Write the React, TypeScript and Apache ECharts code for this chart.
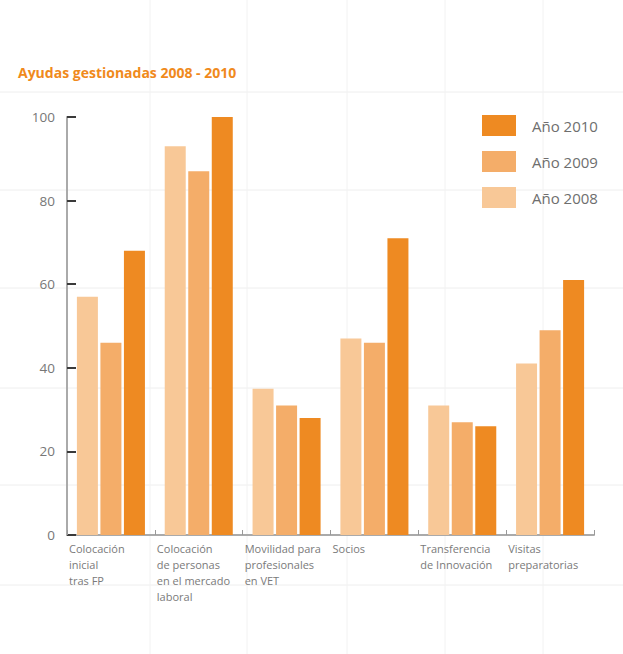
import React, { useEffect, useRef } from "react";
import * as echarts from "echarts";

const categories: string[] = [
  "Colocación\ninicial\ntras FP",
  "Colocación\nde personas\nen el mercado\nlaboral",
  "Movilidad para\nprofesionales\nen VET",
  "Socios",
  "Transferencia\nde Innovación",
  "Visitas\npreparatorias",
];
const years: string[] = ["Año 2008", "Año 2009", "Año 2010"];
const values2008: number[] = [57, 93, 35, 47, 31, 41];
const values2009: number[] = [46, 87, 31, 46, 27, 49];
const values2010: number[] = [68, 100, 28, 71, 26, 61];
const yTicks: number[] = [0, 20, 40, 60, 80, 100];
const colors: string[] = ["#F8C897", "#F4AD69", "#EE8A22"];

const bgH = [92, 190, 288, 388, 485, 585];
const bgV = [150, 247, 347, 445, 543];

export default function App() {
  const ref = useRef<HTMLDivElement>(null);
  useEffect(() => {
    document.body.style.margin = "0";
    const chart = echarts.init(ref.current!, null, { renderer: "svg" });
    const font = "'Open Sans', 'DejaVu Sans', sans-serif";
    const graphics: any[] = [];
    bgH.forEach((y) =>
      graphics.push({
        type: "line",
        z: -10,
        shape: { x1: 0, y1: y, x2: 623, y2: y },
        style: { stroke: "#eeeeee", lineWidth: 1 },
      })
    );
    bgV.forEach((x) =>
      graphics.push({
        type: "line",
        z: -10,
        shape: { x1: x, y1: 0, x2: x, y2: 654 },
        style: { stroke: "#f2f2f2", lineWidth: 1 },
      })
    );
    const seriesData = [values2008, values2009, values2010];
    chart.setOption({
      animation: false,
      backgroundColor: "#ffffff",
      textStyle: { fontFamily: font },
      title: {
        text: "Ayudas gestionadas 2008 - 2010",
        left: 18,
        top: 65,
        padding: 0,
        textStyle: { fontFamily: font, fontSize: 14, fontWeight: "bold", color: "#F08A1C" },
      },
      legend: {
        data: [years[2], years[1], years[0]],
        orient: "vertical",
        left: 482,
        top: 115,
        padding: 0,
        itemWidth: 34,
        itemHeight: 21,
        itemGap: 15,
        icon: "rect",
        selectedMode: false,
        textStyle: { fontFamily: font, fontSize: 15, color: "#6e6e6e", padding: [0, 0, 0, 11] },
      },
      graphic: graphics,
      grid: { left: 67, right: 29, top: 117, bottom: 119, containLabel: false },
      xAxis: [
        {
          type: "category",
          data: categories,
          axisLine: { show: true, lineStyle: { color: "#aaaaaa", width: 2 } },
          axisTick: { show: true, inside: true, length: 5, interval: 0, lineStyle: { color: "#999999", width: 1 } },
          axisLabel: { show: false },
          splitLine: { show: false },
        },
        {
          type: "value",
          position: "bottom",
          min: 0,
          max: 6,
          interval: 1,
          axisLine: { show: false },
          axisTick: { show: false },
          splitLine: { show: false },
          axisLabel: {
            show: true,
            align: "left",
            verticalAlign: "top",
            margin: 5,
            padding: [0, 0, 0, 2],
            fontFamily: font,
            fontSize: 11,
            lineHeight: 16,
            color: "#7a7a7a",
            formatter: (v: number) => categories[v] ?? "",
          },
        },
      ],
      yAxis: {
        type: "value",
        min: yTicks[0],
        max: yTicks[yTicks.length - 1],
        interval: 20,
        axisLine: { show: true, lineStyle: { color: "#aaaaaa", width: 2 } },
        axisTick: { show: true, inside: true, length: 9, lineStyle: { color: "#3a3a3a", width: 2 } },
        splitLine: { show: false },
        axisLabel: {
          margin: 12,
          padding: [9, 0, 0, 0],
          fontFamily: font,
          fontSize: 13.5,
          color: "#777777",
        },
      },
      series: years.map((name, i) => ({
        name,
        type: "bar",
        xAxisIndex: 0,
        data: seriesData[i],
        barWidth: 21,
        barGap: "12%",
        barCategoryGap: "21%",
        itemStyle: { color: colors[i] },
      })),
    });
    return () => chart.dispose();
  }, []);
  return <div ref={ref} style={{ width: 623, height: 654 }} />;
}
